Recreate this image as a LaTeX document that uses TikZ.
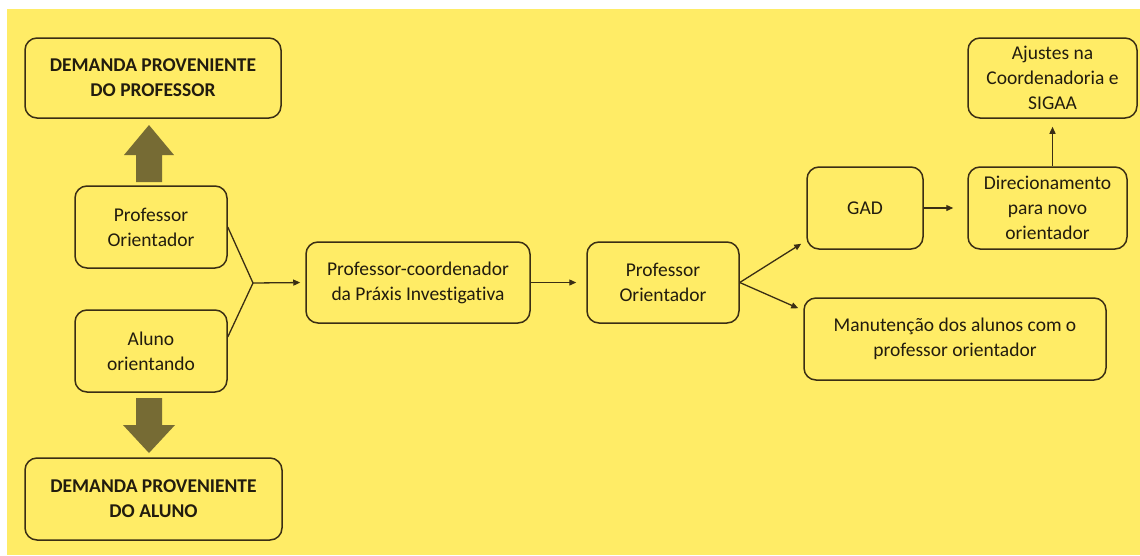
\documentclass[tikz,border=0pt]{standalone}
\usepackage{fontspec}
\setmainfont{Carlito}[Ligatures={NoCommon,NoContextual}]
\usetikzlibrary{arrows.meta}
\definecolor{bgyellow}{RGB}{255,236,102}
\definecolor{boxline}{RGB}{58,46,20}
\definecolor{blockolive}{RGB}{118,107,52}
\definecolor{textdark}{RGB}{34,28,14}

\begin{document}
\begin{tikzpicture}[x=1pt,y=-1pt,
  fbox/.style = {
    rectangle, draw=boxline, fill=bgyellow, line width=1.5pt,
    rounded corners=12pt, align=center, inner sep=0pt,
    text=textdark, font=\fontsize{19.5}{25}\selectfont
  },
  boldbox/.style = {fbox, font=\fontsize{19.5}{25}\selectfont\bfseries},
  sized/.style 2 args = {minimum width=#1pt, minimum height=#2pt},
  arr/.style = {-{Triangle[length=7pt,width=6pt]}, line width=1.3pt, boxline}
]
  \useasboundingbox (0,0) rectangle (1140,555);
  \fill[bgyellow] (7,9) rectangle (1140,555);

  \node[boldbox, sized={256}{80}] (demprof)  at (153,78)    {DEMANDA PROVENIENTE\\DO PROFESSOR};
  \node[fbox, sized={152}{82}]    (profori)  at (151,227)   {Professor\\Orientador};
  \node[fbox, sized={152}{82}]    (aluno)    at (151,351)   {Aluno\\orientando};
  \node[boldbox, sized={257}{82}] (demaluno) at (153.5,499) {DEMANDA PROVENIENTE\\DO ALUNO};
  \node[fbox, sized={224}{81}]    (coord)    at (418,282.5) {Professor-coordenador\\da Práxis Investigativa};
  \node[fbox, sized={152}{81}]    (orient)   at (663,282.5) {Professor\\Orientador};
  \node[fbox, sized={116}{82}]    (gad)      at (865,208)   {GAD};
  \node[fbox, sized={159}{82}]    (direc)    at (1047.5,208) {Direcionamento\\para novo\\orientador};
  \node[fbox, sized={302}{82}]    (manut)    at (955,339)   {Manutenção dos alunos com o\\professor orientador};
  \node[fbox, sized={169}{80}]    (ajustes)  at (1052.5,78) {Ajustes na\\Coordenadoria e\\SIGAA};

  % block arrows
  \fill[blockolive] (136,182) -- (136,155) -- (124,155) -- (149,125)
    -- (174,155) -- (162,155) -- (162,182) -- cycle;
  \fill[blockolive] (136,398) -- (136,425) -- (123,425) -- (149,453)
    -- (175,425) -- (162,425) -- (162,398) -- cycle;

  \coordinate (junc) at (253,283);
  \draw[line width=1.3pt, boxline] (profori.east) -- (junc);
  \draw[line width=1.3pt, boxline] ([yshift=14pt]aluno.east) -- (junc);
  \draw[arr, shorten >=5pt] (junc) -- (coord.west);
  \draw[arr, shorten >=10pt] (coord.east) -- (orient.west);
  \draw[arr] (orient.east) -- ([xshift=-5pt,yshift=6pt]gad.south west);
  \draw[arr] (orient.east) -- ([xshift=-5pt,yshift=-11pt]manut.north west);
  \draw[arr, shorten >=14pt] (gad.east) -- (direc.west);
  \draw[arr, shorten >=8pt] (direc.north -| ajustes.south) -- (ajustes.south);
\end{tikzpicture}
\end{document}
